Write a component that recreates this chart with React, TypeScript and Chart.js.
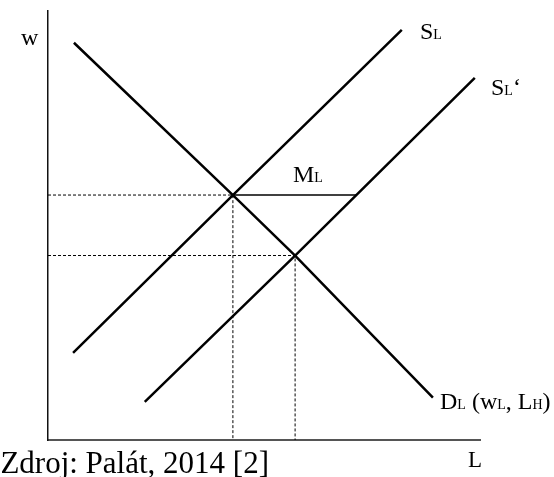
import React, { useEffect, useRef } from "react";
import { Chart, registerables } from "chart.js";

Chart.register(...registerables);

// Data (x: quantity of labour L, y: wage w), arbitrary units 0-100
const demandDL = [
  { x: 6.0, y: 92.6 },
  { x: 42.8, y: 57.1 },
  { x: 57.2, y: 43.0 },
  { x: 89.1, y: 9.9 },
];
const supplySL = [
  { x: 5.8, y: 20.3 },
  { x: 42.8, y: 57.1 },
  { x: 81.9, y: 95.6 },
];
const supplySL2 = [
  { x: 22.4, y: 8.9 },
  { x: 57.2, y: 43.0 },
  { x: 98.8, y: 84.4 },
];
const marginML = [
  { x: 42.8, y: 57.1 },
  { x: 71.5, y: 57.1 },
];
const guide1 = [
  { x: 0, y: 57.1 },
  { x: 42.8, y: 57.1 },
  { x: 42.8, y: 0 },
];
const guide2 = [
  { x: 0, y: 43.0 },
  { x: 57.2, y: 43.0 },
  { x: 57.2, y: 0 },
];

const SERIF = '"Liberation Serif", "Times New Roman", serif';

type Run = [string, number];

function drawRuns(ctx: CanvasRenderingContext2D, runs: Run[], x: number, y: number) {
  let cx = x;
  for (const [t, size] of runs) {
    ctx.font = `${size}px ${SERIF}`;
    ctx.fillText(t, cx, y);
    cx += ctx.measureText(t).width;
  }
}

const labelsPlugin = {
  id: "econLabels",
  afterDraw(chart: Chart) {
    const ctx = chart.ctx;
    ctx.save();
    ctx.fillStyle = "#000";
    ctx.textBaseline = "alphabetic";
    ctx.textAlign = "left";
    const M = 24;
    const S = 14;
    drawRuns(ctx, [["w", M]], 21, 45);
    drawRuns(ctx, [["S", M], ["L", S]], 420, 39);
    drawRuns(ctx, [["S", M], ["L", S], ["‘", M]], 491, 95);
    drawRuns(ctx, [["M", M], ["L", S]], 293, 182);
    drawRuns(
      ctx,
      [["D", M], ["L", S], [" (w", M], ["L", S], [", L", M], ["H", S], [")", M]],
      440,
      409
    );
    drawRuns(ctx, [["L", 23]], 468, 467);
    ctx.font = `31px ${SERIF}`;
    ctx.textAlign = "right";
    ctx.fillText("Zdroj: Palát, 2014 [2]", 269, 473);
    ctx.restore();
  },
};

export default function App() {
  const ref = useRef<HTMLCanvasElement | null>(null);
  useEffect(() => {
    if (!ref.current) return;
    const solid = (data: any[], w: number) => ({
      data,
      showLine: true,
      borderColor: "#000",
      borderWidth: w,
      pointRadius: 0,
      fill: false,
      tension: 0,
    });
    const dashed = (data: any[]) => ({
      data,
      showLine: true,
      borderColor: "#000",
      borderWidth: 1,
      borderDash: [3, 2],
      pointRadius: 0,
      fill: false,
      tension: 0,
    });
    const chart = new Chart(ref.current, {
      type: "scatter",
      data: {
        datasets: [
          dashed(guide1),
          dashed(guide2),
          solid(marginML, 1.5),
          solid(demandDL, 2.5),
          solid(supplySL, 2.5),
          solid(supplySL2, 2.5),
        ] as any,
      },
      options: {
        responsive: false,
        animation: false,
        devicePixelRatio: 1,
        layout: { padding: { left: 48, top: 11, right: 74, bottom: 37 } },
        plugins: { legend: { display: false }, tooltip: { enabled: false } },
        scales: {
          x: {
            type: "linear",
            min: 0,
            max: 100,
            ticks: { display: false },
            grid: { display: false, drawTicks: false },
            border: { display: true, color: "#555", width: 2 },
            afterFit: (s: any) => {
              s.height = 0;
            },
          },
          y: {
            type: "linear",
            min: 0,
            max: 100,
            ticks: { display: false },
            grid: { display: false, drawTicks: false },
            border: { display: true, color: "#111", width: 1.5 },
            afterFit: (s: any) => {
              s.width = 0;
            },
          },
        },
      } as any,
      plugins: [labelsPlugin],
    });
    return () => chart.destroy();
  }, []);
  return (
    <canvas
      ref={ref}
      width={554}
      height={477}
      style={{ position: "fixed", left: 0, top: 0, width: 554, height: 477, background: "#fff" }}
    />
  );
}
